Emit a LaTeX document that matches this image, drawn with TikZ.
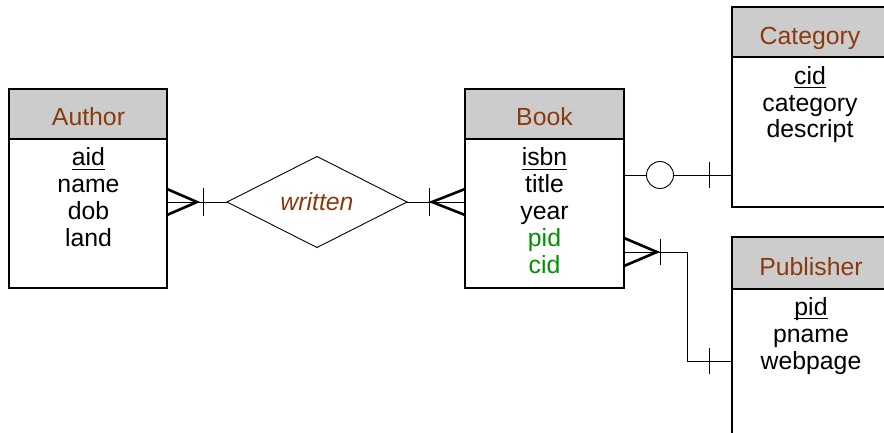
\documentclass[tikz,border=0pt]{standalone}
\usepackage{fontspec}
\setmainfont{Liberation Sans}
\usetikzlibrary{shapes.geometric}
\definecolor{ertitle}{RGB}{139,58,14}
\definecolor{erfk}{RGB}{0,145,0}
\definecolor{erhead}{RGB}{204,204,204}
% primary key: underline set at a fixed depth below the baseline
\newcommand\pkey[1]{\setbox0\hbox{#1}\rlap{\rule[-3.6pt]{\wd0}{0.9pt}}\box0}
\begin{document}
\begin{tikzpicture}[x=1pt,y=-1pt,
  txt/.style={font=\fontsize{24.8}{27}\selectfont, inner sep=0, anchor=base},
  title/.style={txt, text=ertitle},
  fk/.style={txt, text=erfk},
  entbox/.style={draw, line width=1.1pt, inner sep=0, outer sep=0, anchor=north west, fill=white},
  headbox/.style={draw, line width=1.1pt, inner sep=0, outer sep=0, anchor=north west, fill=erhead, minimum height=50},
  rel/.style={draw, diamond, line width=0.9pt, inner sep=0, outer sep=0, minimum width=180, minimum height=91, aspect=1.98,
    font=\fontsize{24.8}{27}\selectfont\itshape, text=ertitle},
  conn/.style={line width=0.9pt},
  crow/.style={line width=2.6pt},
  bar/.style={line width=0.9pt}]
\clip (0,0) rectangle (884,433);

% ---- entities ----
\node[entbox, minimum width=158, minimum height=199] (author) at (9,89) {};
\node[headbox, minimum width=158] (authorH) at (9,89) {};
\node[title] (authorT) at (88.5,126) {Author};
\node[txt] (author1) at (88.5,166) {\pkey{aid}};
\node[txt] (author2) at (88.5,192.75) {name};
\node[txt] (author3) at (88.5,219.5) {dob};
\node[txt] (author4) at (88.5,246.25) {land};

\node[entbox, minimum width=159, minimum height=199] (book) at (465,89) {};
\node[headbox, minimum width=159] (bookH) at (465,89) {};
\node[title] (bookT) at (544.5,126) {Book};
\node[txt] (book1) at (544.5,166) {\pkey{isbn}};
\node[txt] (book2) at (544.5,192.75) {title};
\node[txt] (book3) at (544.5,219.5) {year};
\node[fk] (book4) at (544.5,246.25) {pid};
\node[fk] (book5) at (544.5,273) {cid};

\node[entbox, minimum width=158, minimum height=200] (cat) at (732,7) {};
\node[headbox, minimum width=158] (catH) at (732,7) {};
\node[title] (catT) at (810,45) {Category};
\node[txt] (cat1) at (810,84.5) {\pkey{cid}};
\node[txt] (cat2) at (810,111.25) {category};
\node[txt] (cat3) at (810,138) {descript};

\node[entbox, minimum width=158, minimum height=240] (pub) at (732,237) {};
\node[headbox, minimum width=158, minimum height=52] (pubH) at (732,237) {};
\node[title] (pubT) at (811,275.5) {Publisher};
\node[txt] (pub1) at (811,315.5) {\pkey{pid}};
\node[txt] (pub2) at (811,342.25) {pname};
\node[txt] (pub3) at (811,369) {webpage};

% ---- relationship ----
\node[rel] (wr) at (317,202) {written};

% Author -- written (many / one)
\draw[conn] (author.east |- wr.west) -- (wr.west);
\draw[crow] (author.east |- wr.west) ++(0,-13) -- ++(30,13) -- ++(-30,13);
\draw[bar] (author.east |- wr.west) ++(36,-13.5) -- ++(0,27);

% written -- Book (one / many)
\draw[conn] (wr.east) -- (book.west |- wr.east);
\draw[crow] (book.west |- wr.east) ++(0,-13) -- ++(-33,13) -- ++(33,13);
\draw[bar] (book.west |- wr.east) ++(-36,-13.5) -- ++(0,27);

% Book -- Category (zero-or-one)
\coordinate (bc) at ([yshift=-86pt]book.north east);
\draw[conn] (bc) -- (cat.west |- bc);
\draw[bar, fill=white] (bc) ++(36,0) circle[radius=13.5];
\draw[bar] (cat.west |- bc) ++(-23,-13) -- ++(0,26);

% Book -- Publisher (many / one)
\coordinate (bp) at ([yshift=-163pt]book.north east);
\coordinate (pb) at ([yshift=-124pt]pub.north west);
\draw[conn] (bp) -- ++(63,0) |- (pb);
\draw[crow] (bp) ++(0,-14) -- ++(33,14) -- ++(-33,14);
\draw[bar] (bp) ++(36,-13) -- ++(0,26);
\draw[bar] (pb) ++(-23,-13) -- ++(0,26);
\end{tikzpicture}
\end{document}
